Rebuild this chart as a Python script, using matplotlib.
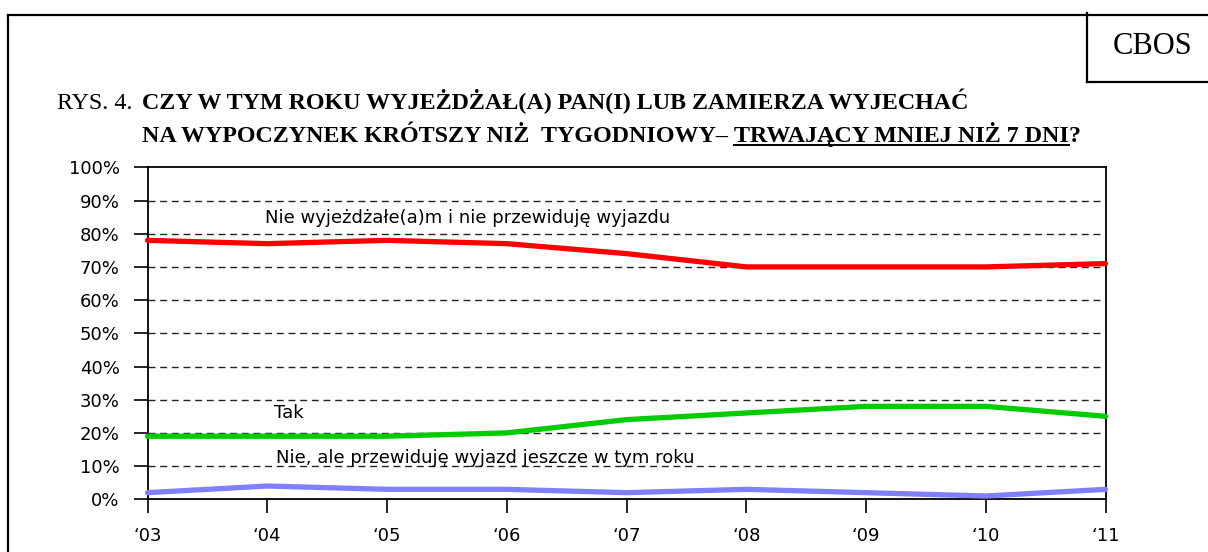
import matplotlib
matplotlib.use("Agg")
import matplotlib.pyplot as plt
from matplotlib.lines import Line2D

years = ["‘03", "‘04", "‘05", "‘06", "‘07", "‘08", "‘09", "‘10", "‘11"]
nie_wyjezdzal = [78, 77, 78, 77, 74, 70, 70, 70, 71]
tak = [19, 19, 19, 20, 24, 26, 28, 28, 25]
nie_ale = [2, 4, 3, 3, 2, 3, 2, 1, 3]
yticks = list(range(0, 101, 10))
ytick_labels = [f"{v}%" for v in yticks]

W, H = 1208, 552
fig = plt.figure(figsize=(W / 100, H / 100), dpi=100)
fig.patch.set_facecolor("white")

def fx(px):
    return px / W

def fy(py):
    return 1 - py / H

ax = fig.add_axes([fx(147.5), fy(499.3), fx(1105.5) - fx(147.5), fy(167.3) - fy(499.3)])
x = list(range(len(years)))

for yv in yticks[1:-1]:
    ax.axhline(yv, color="#222222", lw=1.0, dashes=(5.0, 3.4), zorder=1)

ax.plot(x, nie_wyjezdzal, color="#FF0000", lw=3.8, solid_capstyle="round", clip_on=False, zorder=3)
ax.plot(x, tak, color="#00CC00", lw=3.8, solid_capstyle="round", clip_on=False, zorder=3)
ax.plot(x, nie_ale, color="#8080FF", lw=3.8, solid_capstyle="round", clip_on=False, zorder=3)

sans = "DejaVu Sans"
ax.set_xlim(0, len(years) - 1)
ax.set_ylim(0, 100)
ax.set_xticks(x)
ax.set_xticklabels(years)
ax.set_yticks(yticks)
ax.set_yticklabels(ytick_labels)
for sp in ax.spines.values():
    sp.set_color("black")
    sp.set_linewidth(1.3)
ax.tick_params(axis="both", direction="out", length=10, width=1.2, pad=10,
               labelsize=13, colors="black")
for lab in ax.get_xticklabels() + ax.get_yticklabels():
    lab.set_family(sans)

ax.text(fx(265), fy(223.3), "Nie wyjeżdżałe(a)m i nie przewiduję wyjazdu", transform=fig.transFigure,
        fontsize=13, family=sans, va="baseline", ha="left")
ax.text(fx(274), fy(418), "Tak", transform=fig.transFigure,
        fontsize=13, family=sans, va="baseline", ha="left")
ax.text(fx(276), fy(463), "Nie, ale przewiduję wyjazd jeszcze w tym roku", transform=fig.transFigure,
        fontsize=13, family=sans, va="baseline", ha="left")

# Frame
lw_frame = 1.6
fig.add_artist(Line2D([fx(8), 1], [fy(15), fy(15)], color="black", lw=lw_frame))
fig.add_artist(Line2D([fx(8), fx(8)], [fy(15), 0], color="black", lw=lw_frame))
fig.add_artist(Line2D([fx(1087), fx(1087)], [fy(13), fy(82)], color="black", lw=lw_frame))
fig.add_artist(Line2D([fx(1087), 1], [fy(82), fy(82)], color="black", lw=lw_frame))
fig.text(fx(1152.5), fy(46), "CBOS", family="Liberation Serif", fontsize=22, ha="center", va="center")

# Title
serif = "Liberation Serif"
tsize = 17.3
fig.text(fx(57), fy(109), "RYS. 4.", family=serif, fontsize=tsize, va="baseline", ha="left")
fig.text(fx(142), fy(109), "CZY W TYM ROKU WYJEŻDŻAŁ(A) PAN(I) LUB ZAMIERZA WYJECHAĆ",
         family=serif, fontsize=tsize, weight="bold", va="baseline", ha="left")

fig.canvas.draw()
renderer = fig.canvas.get_renderer()
t1 = fig.text(fx(142), fy(142), "NA WYPOCZYNEK KRÓTSZY NIŻ  TYGODNIOWY– ",
              family=serif, fontsize=tsize, weight="bold", va="baseline", ha="left")
bb1 = t1.get_window_extent(renderer)
t2 = fig.text(bb1.x1 / W, fy(142), "TRWAJĄCY MNIEJ NIŻ 7 DNI",
              family=serif, fontsize=tsize, weight="bold", va="baseline", ha="left")
bb2 = t2.get_window_extent(renderer)
fig.text(bb2.x1 / W, fy(142), "?", family=serif, fontsize=tsize, weight="bold", va="baseline", ha="left")
fig.add_artist(Line2D([bb2.x0 / W, bb2.x1 / W], [fy(145), fy(145)], color="black", lw=1.4))

fig.savefig("out.png", dpi=100, facecolor="white")
